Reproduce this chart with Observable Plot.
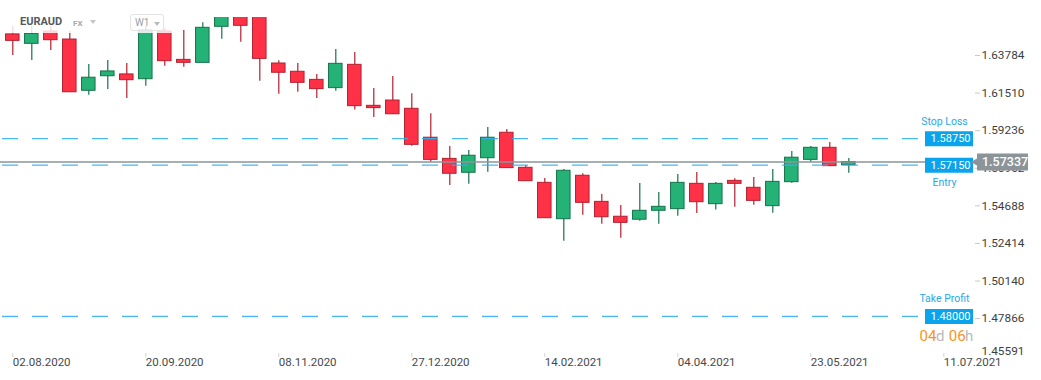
<!DOCTYPE html>
<html><head><meta charset="utf-8">
<script src="https://cdn.jsdelivr.net/npm/d3@7"></script>
<script src="https://cdn.jsdelivr.net/npm/@observablehq/plot@0.6"></script>
<style>
body{margin:0;background:#fff;font-family:Roboto,sans-serif}
#wrap{position:relative;width:1041px;height:380px;overflow:hidden}
#hdr{position:absolute;left:0;top:0;width:176px;height:33px;background:rgba(255,255,255,0.82);z-index:2}
#hdr span{position:absolute;white-space:nowrap}
.sym{left:20px;top:15px;font-size:11px;font-weight:700;color:#545a5f}
.fx{left:73px;top:18.5px;font-size:8px;font-weight:700;color:#a3aaaf}
.tri{width:0;height:0;border-left:3.5px solid transparent;border-right:3.5px solid transparent;border-top:4px solid #c2c6c9}
.tf{left:130px;top:14px;width:34px;height:17px;border:1px solid #e3e3e3;border-radius:3px;box-sizing:border-box}
.w1{left:135px;top:17px;font-size:10px;color:#9aa0a5}
</style></head><body>
<div id="wrap"><div id="chart"></div>
<div id="hdr"><span class="sym">EURAUD</span><span class="fx">FX</span><span class="tri" style="left:90px;top:20px"></span><span class="tf"></span><span class="w1">W1</span><span class="tri" style="left:154px;top:22px;border-top-color:#b5babd"></span></div>
</div>
<script>
const dates = ["2020-08-02","2020-08-09","2020-08-16","2020-08-23","2020-08-30","2020-09-06","2020-09-13","2020-09-20","2020-09-27","2020-10-04","2020-10-11","2020-10-18","2020-10-25","2020-11-01","2020-11-08","2020-11-15","2020-11-22","2020-11-29","2020-12-06","2020-12-13","2020-12-20","2020-12-27","2021-01-03","2021-01-10","2021-01-17","2021-01-24","2021-01-31","2021-02-07","2021-02-14","2021-02-21","2021-02-28","2021-03-07","2021-03-14","2021-03-21","2021-03-28","2021-04-04","2021-04-11","2021-04-18","2021-04-25","2021-05-02","2021-05-09","2021-05-16","2021-05-23","2021-05-30","2021-06-06"];
const opens  = [1.6506,1.6449,1.6524,1.6475,1.6165,1.6253,1.6264,1.6235,1.6524,1.6352,1.6334,1.6552,1.6640,1.6620,1.6330,1.6280,1.6231,1.6181,1.6322,1.6074,1.6106,1.6056,1.5881,1.5753,1.5669,1.5757,1.5911,1.5699,1.5608,1.5388,1.5651,1.5493,1.5403,1.5385,1.5439,1.5449,1.5602,1.5479,1.5620,1.5578,1.5467,1.5612,1.5747,1.5820,1.5715];
const highs  = [1.6554,1.6554,1.6554,1.6524,1.6324,1.6348,1.6330,1.6554,1.6542,1.6530,1.6576,1.6680,1.6690,1.6680,1.6346,1.6330,1.6264,1.6415,1.6397,1.6179,1.6251,1.6147,1.6026,1.5828,1.5804,1.5943,1.5931,1.5713,1.5634,1.5689,1.5663,1.5538,1.5471,1.5604,1.5550,1.5659,1.5671,1.5610,1.5633,1.5640,1.5689,1.5798,1.5828,1.5852,1.5755];
const lows   = [1.6378,1.6348,1.6409,1.6154,1.6138,1.6173,1.6118,1.6193,1.6314,1.6308,1.6334,1.6477,1.6459,1.6223,1.6144,1.6156,1.6118,1.6162,1.6048,1.6003,1.6023,1.5830,1.5733,1.5592,1.5600,1.5672,1.5697,1.5618,1.5394,1.5255,1.5412,1.5358,1.5273,1.5376,1.5358,1.5406,1.5423,1.5443,1.5461,1.5473,1.5424,1.5606,1.5731,1.5709,1.5666];
const closes = [1.6467,1.6509,1.6471,1.6156,1.6244,1.6282,1.6229,1.6530,1.6344,1.6334,1.6546,1.6640,1.6558,1.6358,1.6274,1.6213,1.6175,1.6328,1.6072,1.6060,1.6023,1.5838,1.5747,1.5663,1.5772,1.5881,1.5697,1.5618,1.5394,1.5681,1.5487,1.5400,1.5366,1.5439,1.5463,1.5608,1.5491,1.5602,1.5602,1.5499,1.5614,1.5760,1.5820,1.5709,1.5734];

const yTicks = [1.63784,1.61510,1.59236,1.56962,1.54688,1.52414,1.50140,1.47866,1.45591];
const xTickLabels = ["02.08.2020","20.09.2020","08.11.2020","27.12.2020","14.02.2021","04.04.2021","23.05.2021","11.07.2021"];

const levelNames  = ["Stop Loss","Entry","Take Profit"];
const levelValues = [1.5875,1.5715,1.4800];
const levelSides  = ["above","below","above"];
const currentPrice = 1.57337;
const countdown = ["04","d","06","h"];

const parse = d3.utcParse("%Y-%m-%d");
const parseTick = d3.utcParse("%d.%m.%Y");
const candles = dates.map((d,i)=>({date:parse(d),open:opens[i],high:highs[i],low:lows[i],close:closes[i]}));
const levels = levelNames.map((n,i)=>({name:n,value:levelValues[i],side:levelSides[i]}));
const xTicks = xTickLabels.map(parseTick);

const up = d => d.close >= d.open;
const RED="#ff3147", RED_S="#b2202f", GREEN="#24b276", GREEN_S="#15724a";
const BLUE="#0aa4ec", BLUE_T="#29a9e6", GRAY="#8b9498";
const halfWeek = 3.5*864e5;

const chart = Plot.plot({
  width:1041, height:380,
  marginTop:17, marginBottom:27, marginLeft:0, marginRight:67,
  style:{fontFamily:"Roboto, sans-serif", background:"#fff", overflow:"visible"},
  x:{type:"utc", domain:[new Date("2020-07-28T11:14Z"), new Date("2021-07-22T07:26Z")]},
  y:{domain:[1.45756,1.66083]},
  marks:[
    Plot.axisX(xTicks,{anchor:"bottom", tickSize:4, tickPadding:0, textAnchor:"start", tickFormat:d3.utcFormat("%d.%m.%Y"), fontSize:11.5, stroke:"#d4d4d4", fill:"#45494c", label:null}),
    Plot.axisY(yTicks.filter(v=>v>1.458),{anchor:"right", tickSize:5, tickPadding:2, tickFormat:d=>d.toFixed(5), fontSize:11.8, stroke:"#c8c8c8", fill:"#3b3f42", label:null}),
    Plot.axisY(yTicks.filter(v=>v<=1.458),{anchor:"right", tickSize:0, tickPadding:7, dy:-5.5, tickFormat:d=>d.toFixed(5), fontSize:11.8, fill:"#3b3f42", label:null}),
    Plot.ruleX(candles,{x:"date", y1:"low", y2:"high", stroke:d=>up(d)?GREEN_S:RED_S, strokeWidth:1.2, clip:true}),
    Plot.rect(candles,{x1:d=>new Date(+d.date-halfWeek), x2:d=>new Date(+d.date+halfWeek), y1:"open", y2:"close", insetLeft:2.75, insetRight:2.75, fill:d=>up(d)?GREEN:RED, stroke:d=>up(d)?GREEN_S:RED_S, strokeWidth:1, clip:true}),
    Plot.ruleY(levels,{y:"value", stroke:"#33b0ee", strokeWidth:1.3, strokeOpacity:0.9, strokeDasharray:"16,14", strokeDashoffset:-2, insetRight:51}),
    Plot.ruleY([currentPrice],{y:d=>d, stroke:GRAY, strokeWidth:1.4}),
    Plot.ruleY(levels,{y:"value", stroke:BLUE, strokeWidth:15, insetLeft:925, insetRight:1}),
    Plot.text(levels,{y:"value", text:d=>d.value.toFixed(5), frameAnchor:"right", dx:-24, textAnchor:"middle", fill:"white", fontSize:11}),
    Plot.text(levels.filter(d=>d.side==="above"),{y:"value", text:"name", frameAnchor:"right", dx:-30, dy:-17.5, textAnchor:"middle", fill:BLUE_T, fontSize:10.5}),
    Plot.text(levels.filter(d=>d.side==="below"),{y:"value", text:"name", frameAnchor:"right", dx:-30, dy:17.6, textAnchor:"middle", fill:BLUE_T, fontSize:10.5}),
    Plot.ruleY([currentPrice],{y:d=>d, stroke:GRAY, strokeWidth:17, insetLeft:977, insetRight:-54}),
    Plot.dot([currentPrice],{y:d=>d, frameAnchor:"right", dx:3, symbol:"triangle2", rotate:-90, r:5.5, fill:GRAY}),
    Plot.text([currentPrice],{y:d=>d, text:d=>d.toFixed(5), frameAnchor:"right", dx:7.5, textAnchor:"start", fill:"white", fontSize:12.5, fontWeight:500}),
    Plot.text([levelValues[2]],{y:d=>d, text:[countdown[0]], frameAnchor:"right", dx:-55, dy:19.7, textAnchor:"start", fill:"#f7941d", fontSize:15}),
    Plot.text([levelValues[2]],{y:d=>d, text:[countdown[1]], frameAnchor:"right", dx:-38.5, dy:19.7, textAnchor:"start", fill:"#b8bbbd", fontSize:15}),
    Plot.text([levelValues[2]],{y:d=>d, text:[countdown[2]], frameAnchor:"right", dx:-25.8, dy:19.7, textAnchor:"start", fill:"#f7941d", fontSize:15}),
    Plot.text([levelValues[2]],{y:d=>d, text:[countdown[3]], frameAnchor:"right", dx:-9.5, dy:19.7, textAnchor:"start", fill:"#b8bbbd", fontSize:15})
  ]
});
document.getElementById("chart").append(chart);
</script>
</body></html>
